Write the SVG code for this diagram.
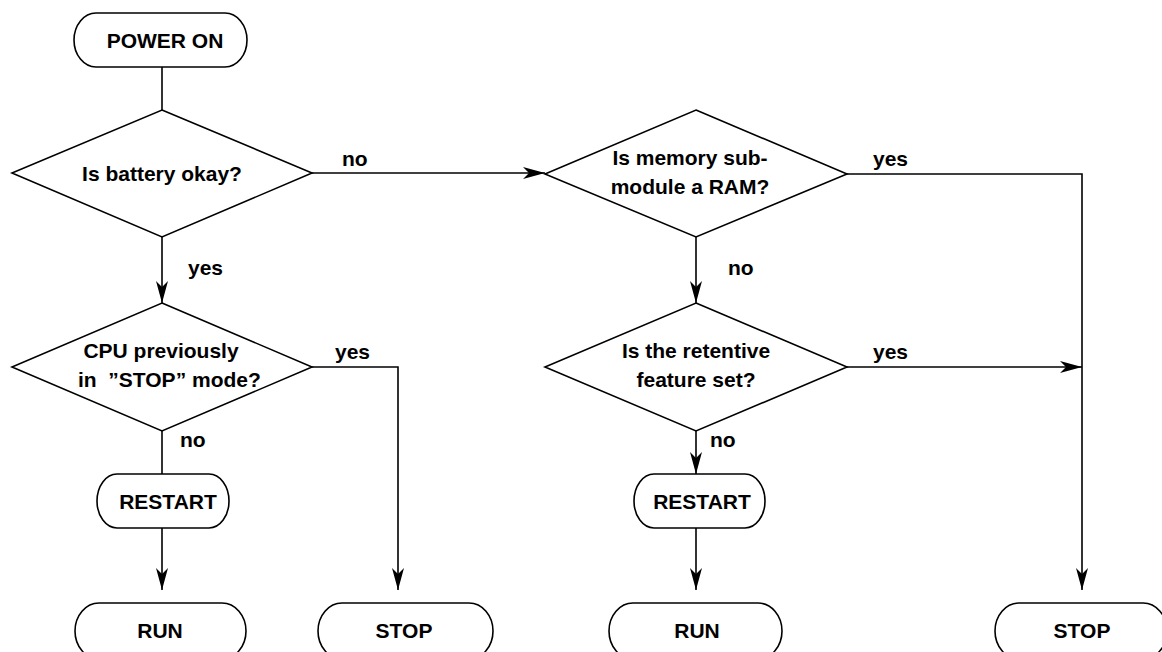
<svg xmlns="http://www.w3.org/2000/svg" width="1162" height="652" viewBox="0 0 1162 652">
  <style>
    .shape { fill: #ffffff; stroke: #000000; stroke-width: 1.6; }
    .wire { fill: none; stroke: #000000; stroke-width: 1.6; }
    .arrow { fill: none; stroke: #000000; stroke-width: 1.6; marker-end: url(#head); }
    text { font-family: "Liberation Sans", Arial, sans-serif; font-weight: bold; font-size: 21px; fill: #000000; }
    .c { text-anchor: middle; }
    .pre { white-space: pre; }
  </style>
  <defs>
    <marker id="head" markerUnits="userSpaceOnUse" markerWidth="24" markerHeight="14" refX="22" refY="6" orient="auto">
      <path d="M0,0 L22,6 L0,12 L6,6 Z" fill="#000000"/>
    </marker>
  </defs>

  <rect width="1162" height="652" fill="#ffffff"/>

  <!-- connectors -->
  <g id="connectors">
    <path class="wire" d="M162,67 V110"/>
    <path class="arrow" d="M162,237 V303"/>
    <path class="arrow" d="M312,173 H545"/>
    <path class="arrow" d="M847,174 H1082 V590"/>
    <path class="arrow" d="M696,237 V303"/>
    <path class="arrow" d="M847,367 H1082"/>
    <path class="arrow" d="M312,367 H398 V590"/>
    <path class="wire" d="M162,431 V474"/>
    <path class="arrow" d="M162,528 V590"/>
    <path class="arrow" d="M696,431 V474"/>
    <path class="arrow" d="M696,528 V590"/>

    <text x="342" y="166">no</text>
    <text x="873" y="166">yes</text>
    <text x="188" y="275">yes</text>
    <text x="728" y="275">no</text>
    <text x="335" y="359">yes</text>
    <text x="873" y="359">yes</text>
    <text x="180" y="447">no</text>
    <text x="710" y="447">no</text>
  </g>

  <!-- terminals and decisions -->
  <g id="power-on">
    <rect class="shape" x="74" y="13" width="173" height="54" rx="22" ry="27"/>
    <text class="c" x="165" y="48">POWER ON</text>
  </g>

  <g id="battery-check">
    <polygon class="shape" points="162,110 312,173 162,237 12,173"/>
    <text class="c" x="162" y="181">Is battery okay?</text>
  </g>

  <g id="memory-check">
    <polygon class="shape" points="696,110 847,174 696,237 545,174"/>
    <text class="c" x="690" y="165">Is memory sub-</text>
    <text class="c" x="690" y="194">module a RAM?</text>
  </g>

  <g id="cpu-stop-check">
    <polygon class="shape" points="162,303 312,367 162,431 12,367"/>
    <text class="c" x="161" y="358">CPU previously</text>
    <text class="pre" x="78" y="387">in  ”STOP” mode?</text>
  </g>

  <g id="retentive-check">
    <polygon class="shape" points="696,303 847,367 696,431 545,367"/>
    <text class="c" x="696" y="358">Is the retentive</text>
    <text class="c" x="696" y="387">feature set?</text>
  </g>

  <g id="restart-left">
    <rect class="shape" x="97" y="474" width="132" height="54" rx="20" ry="27"/>
    <text class="c" x="168" y="509">RESTART</text>
  </g>

  <g id="restart-right">
    <rect class="shape" x="634" y="474" width="131" height="54" rx="20" ry="27"/>
    <text class="c" x="702" y="509">RESTART</text>
  </g>

  <g id="run-left">
    <rect class="shape" x="75" y="603" width="171" height="56" rx="24" ry="28"/>
    <text class="c" x="160" y="638">RUN</text>
  </g>

  <g id="stop-left">
    <rect class="shape" x="318" y="603" width="175" height="56" rx="24" ry="28"/>
    <text class="c" x="404" y="638">STOP</text>
  </g>

  <g id="run-right">
    <rect class="shape" x="609" y="603" width="173" height="56" rx="24" ry="28"/>
    <text class="c" x="697" y="638">RUN</text>
  </g>

  <g id="stop-right">
    <rect class="shape" x="995" y="603" width="172" height="56" rx="24" ry="28"/>
    <text class="c" x="1082" y="638">STOP</text>
  </g>
</svg>
